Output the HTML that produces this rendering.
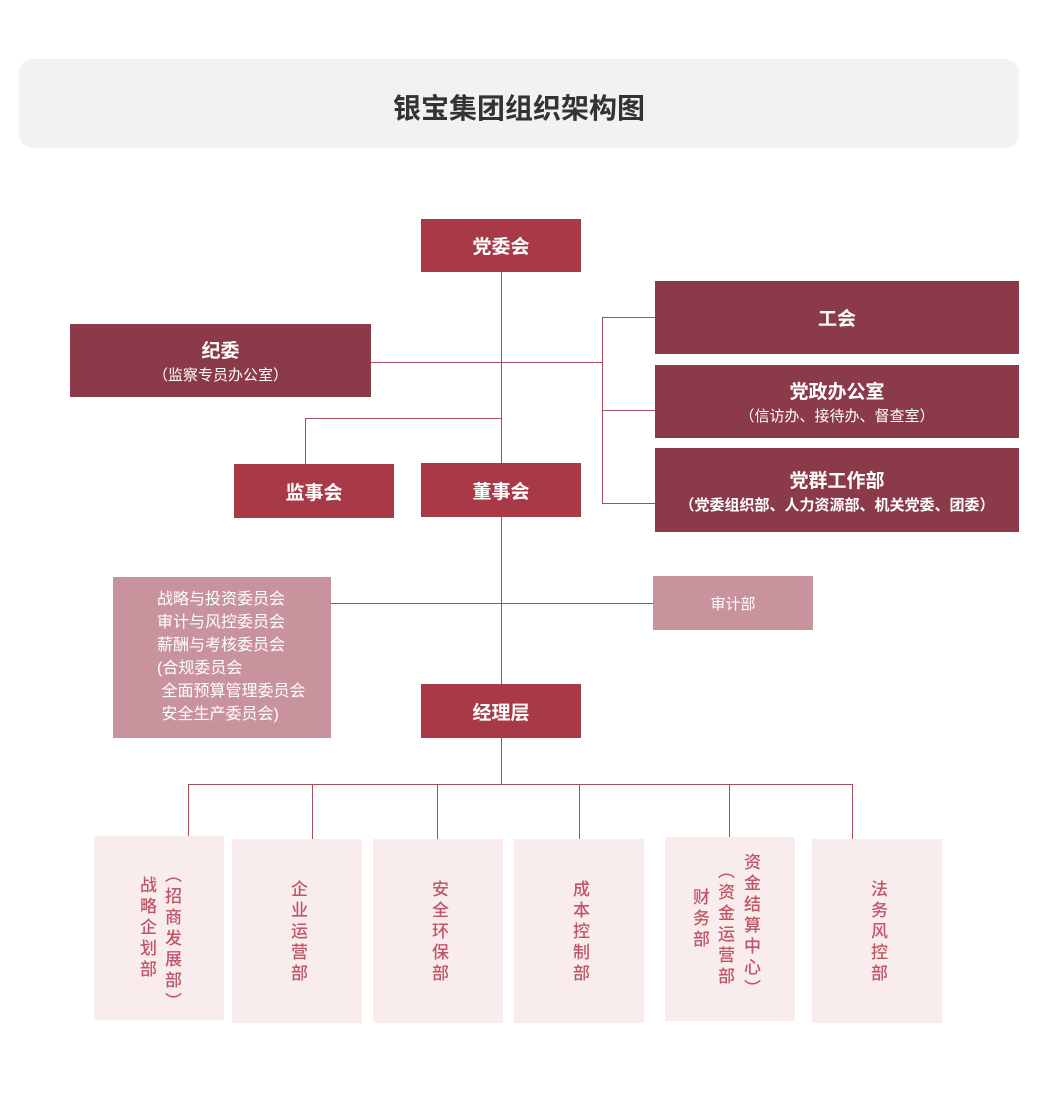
<!DOCTYPE html>
<html><head><meta charset="utf-8"><style>
body{margin:0;width:1041px;height:1117px;background:#fff;position:relative;font-family:"Liberation Sans","Noto Sans CJK SC",sans-serif;overflow:hidden}
.a{position:absolute;box-sizing:border-box}
.b{display:flex;flex-direction:column;align-items:center;justify-content:center;color:#fff;text-align:center}
.r{background:#a73a46}.d{background:#8a3a48}.p{background:#c8939c}.l{background:#f9ecec}
.h{background:#a84a58}
.v{position:absolute;writing-mode:vertical-rl;color:#c05566;font-size:17px;letter-spacing:4px;line-height:20px;font-weight:500}
</style></head><body>
<div class="a" style="left:19px;top:59px;width:1000px;height:89px;background:#f2f2f2;border-radius:14px;display:flex;align-items:center;justify-content:center;font-size:28px;font-weight:bold;color:#333;padding-top:6px">银宝集团组织架构图</div>

<!-- lines -->
<div class="a h" style="left:501px;top:272px;width:1px;height:412px"></div>
<div class="a h" style="left:370px;top:362px;width:232px;height:1px"></div>
<div class="a h" style="left:602px;top:317px;width:1px;height:187px"></div>
<div class="a h" style="left:602px;top:317px;width:53px;height:1px"></div>
<div class="a h" style="left:602px;top:410px;width:53px;height:1px"></div>
<div class="a h" style="left:602px;top:503px;width:53px;height:1px"></div>
<div class="a h" style="left:305px;top:418px;width:196px;height:1px"></div>
<div class="a h" style="left:305px;top:418px;width:1px;height:46px"></div>
<div class="a h" style="left:330px;top:603px;width:323px;height:1px"></div>
<div class="a h" style="left:501px;top:737px;width:1px;height:47px"></div>
<div class="a h" style="left:188px;top:784px;width:665px;height:1px"></div>
<div class="a h" style="left:188px;top:784px;width:1px;height:52px"></div>
<div class="a h" style="left:312px;top:784px;width:1px;height:55px"></div>
<div class="a h" style="left:437px;top:784px;width:1px;height:55px"></div>
<div class="a h" style="left:579px;top:784px;width:1px;height:55px"></div>
<div class="a h" style="left:729px;top:784px;width:1px;height:53px"></div>
<div class="a h" style="left:852px;top:784px;width:1px;height:55px"></div>

<div class="a b r" style="left:421px;top:219px;width:160px;height:53px;font-size:19px;font-weight:bold">党委会</div>
<div class="a b d" style="left:70px;top:324px;width:301px;height:73px"><div style="font-size:19px;font-weight:bold">纪委</div><div style="font-size:15px;margin-top:1px">（监察专员办公室）</div></div>
<div class="a b d" style="left:655px;top:281px;width:364px;height:73px;font-size:19px;font-weight:bold">工会</div>
<div class="a b d" style="left:655px;top:365px;width:364px;height:73px"><div style="font-size:19px;font-weight:bold">党政办公室</div><div style="font-size:15px;margin-top:1px">（信访办、接待办、督查室）</div></div>
<div class="a b d" style="left:655px;top:448px;width:364px;height:84px"><div style="font-size:19px;font-weight:bold">党群工作部</div><div style="font-size:15px;font-weight:bold;margin-top:1px">（党委组织部、人力资源部、机关党委、团委）</div></div>
<div class="a b r" style="left:234px;top:464px;width:160px;height:54px;font-size:19px;font-weight:bold">监事会</div>
<div class="a b r" style="left:421px;top:463px;width:160px;height:54px;font-size:19px;font-weight:bold">董事会</div>
<div class="a p" style="left:113px;top:577px;width:218px;height:161px;color:#fff;font-size:16px;line-height:23px;padding:11px 0 0 44px">战略与投资委员会<br>审计与风控委员会<br>薪酬与考核委员会<br>(合规委员会<br>&nbsp;全面预算管理委员会<br>&nbsp;安全生产委员会)</div>
<div class="a b p" style="left:653px;top:576px;width:160px;height:54px;font-size:15px">审计部</div>
<div class="a b r" style="left:421px;top:684px;width:160px;height:54px;font-size:19px;font-weight:bold">经理层</div>

<div class="a l" style="left:94px;top:836px;width:130px;height:184px"></div>
<div class="a l" style="left:232px;top:839px;width:130px;height:184px"></div>
<div class="a l" style="left:373px;top:839px;width:130px;height:184px"></div>
<div class="a l" style="left:514px;top:839px;width:130px;height:184px"></div>
<div class="a l" style="left:665px;top:837px;width:130px;height:184px"></div>
<div class="a l" style="left:812px;top:839px;width:130px;height:184px"></div>

<div class="v" style="left:136px;top:876px">战略企划部</div>
<div class="v" style="left:161px;top:866px">（招商发展部）</div>
<div class="v" style="left:287px;top:880px">企业运营部</div>
<div class="v" style="left:428px;top:880px">安全环保部</div>
<div class="v" style="left:569px;top:880px">成本控制部</div>
<div class="v" style="left:689px;top:888px">财务部</div>
<div class="v" style="left:714px;top:862px">（资金运营部</div>
<div class="v" style="left:740px;top:853px">资金结算中心）</div>
<div class="v" style="left:867px;top:880px">法务风控部</div>
</body></html>
